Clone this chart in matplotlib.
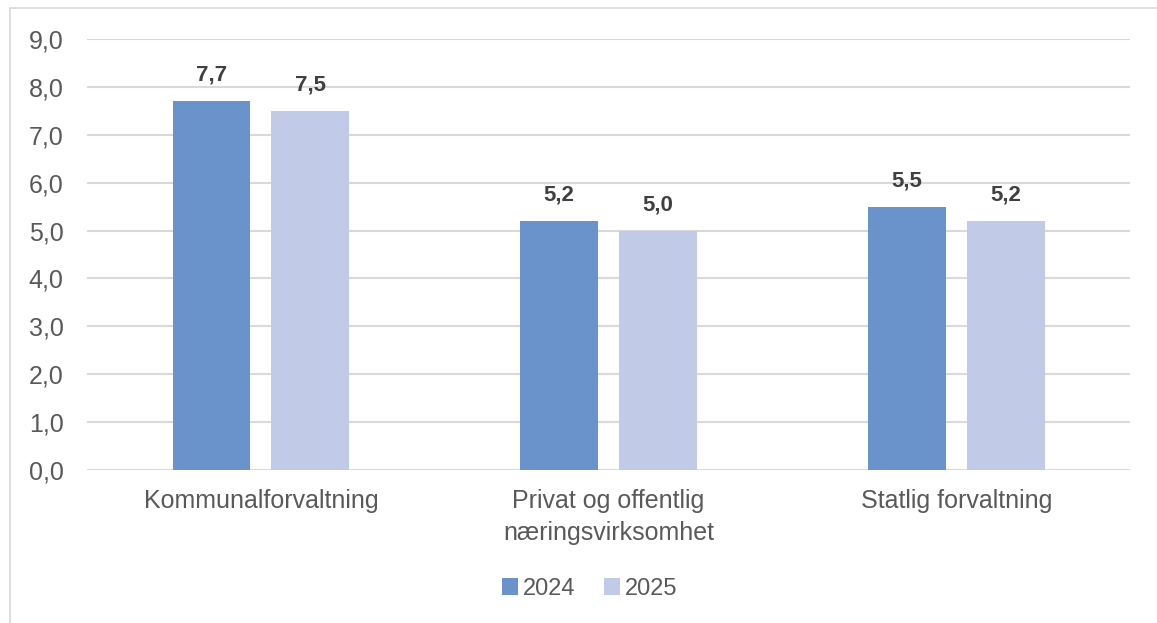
import numpy as np
import matplotlib.pyplot as plt
from matplotlib.patches import Rectangle

plt.rcParams['font.family'] = ['Liberation Sans', 'DejaVu Sans']

# data
categories = ['Kommunalforvaltning', 'Privat og offentlig\nnæringsvirksomhet', 'Statlig forvaltning']
years = ['2024', '2025']
vals_2024 = [7.7, 5.2, 5.5]
vals_2025 = [7.5, 5.0, 5.2]
colors = ['#6A93CC', '#C1CBE8']

fig = plt.figure(figsize=(11.57, 6.23), dpi=100)
ax = fig.add_axes([0.0752, 0.2456, 0.9015, 0.6918])

x = np.arange(len(categories))
w = 0.224
off = 0.142
b1 = ax.bar(x - off, vals_2024, w, color=colors[0], label=years[0], zorder=3)
b2 = ax.bar(x + off, vals_2025, w, color=colors[1], label=years[1], zorder=3)

for bars in (b1, b2):
    for r in bars:
        h = r.get_height()
        ax.text(r.get_x() + r.get_width() / 2, h + 0.32, f'{h:.1f}'.replace('.', ','),
                ha='center', va='bottom', fontsize=16, fontweight='bold', color='#404040')

ax.set_xlim(-0.5, 2.5)
ax.set_ylim(0, 9)
ax.set_yticks(np.arange(0, 10, 1))
ax.set_yticklabels([f'{v:.1f}'.replace('.', ',') for v in range(10)])
ax.set_xticks(x)
ax.set_xticklabels(categories, linespacing=1.4)
ax.tick_params(axis='both', length=0, labelsize=18, colors='#595959')
ax.tick_params(axis='x', pad=14)
ax.tick_params(axis='y', pad=17)
ax.grid(axis='y', color='#D9D9D9', linewidth=1.5, zorder=0)
for s in ax.spines.values():
    s.set_visible(False)

ax.legend(loc='center', bbox_to_anchor=(0.482, -0.275), ncol=2, frameon=False,
          fontsize=17, handlelength=0.7, handleheight=0.7, handletextpad=0.2,
          columnspacing=1.2, labelcolor='#595959')

# outer chart border
fig.patches.append(Rectangle((10 / 1157, -0.01), 1.0, 1 - 8 / 623 + 0.01,
                             transform=fig.transFigure, fill=False,
                             edgecolor='#D9D9D9', linewidth=1.2))

fig.savefig('out.png', dpi=100)
